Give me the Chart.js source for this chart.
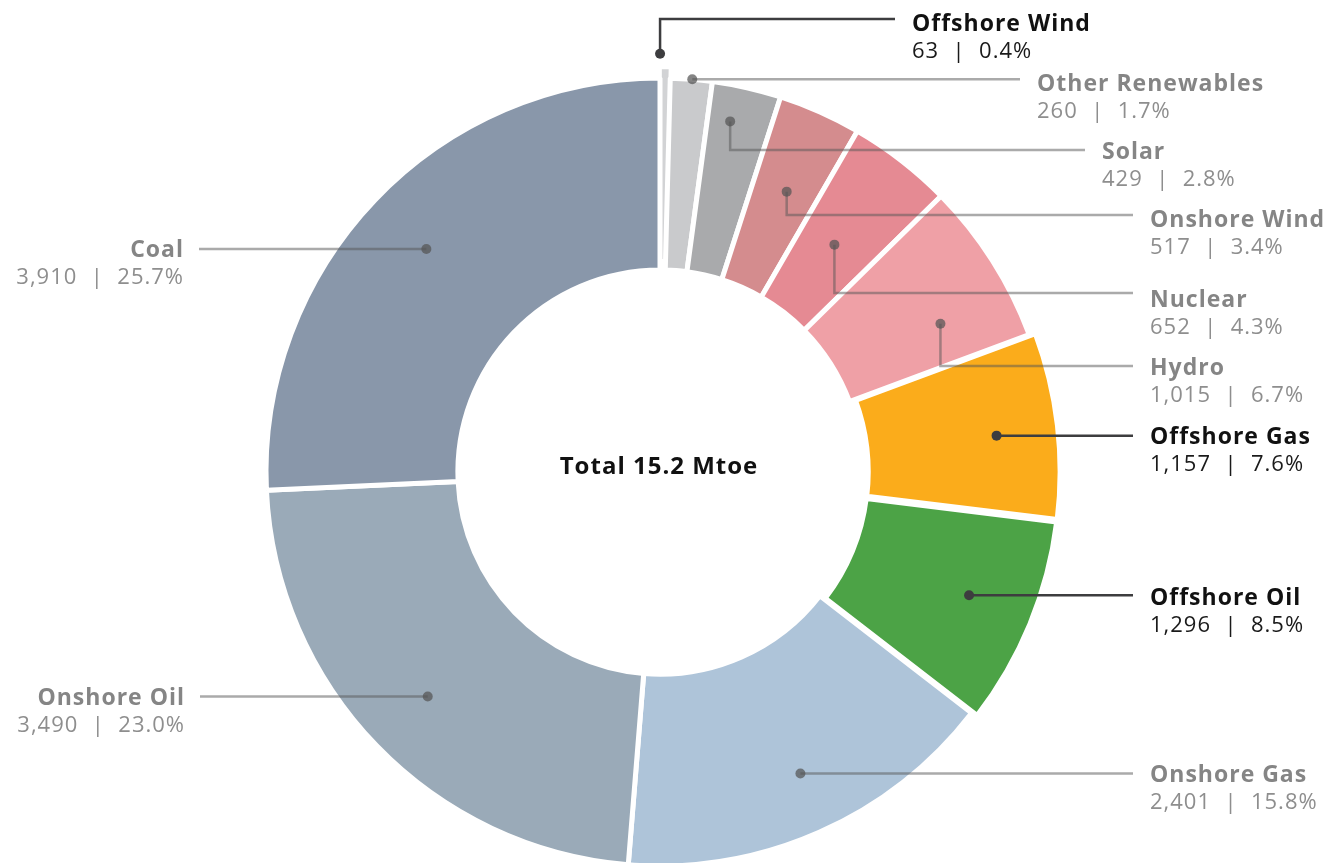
<!DOCTYPE html>
<html><head><meta charset="utf-8">
<script src="https://cdn.jsdelivr.net/npm/chart.js@4/dist/chart.umd.min.js"></script>
<style>html,body{margin:0;padding:0;background:#fff;overflow:hidden}canvas{display:block}</style>
</head><body>
<canvas id="c" width="1326" height="863"></canvas>
<script>
// ---- data ----
const categories = ['Offshore Wind','Other Renewables','Solar','Onshore Wind','Nuclear','Hydro','Offshore Gas','Offshore Oil','Onshore Gas','Onshore Oil','Coal'];
const values = [63,260,429,517,652,1015,1157,1296,2401,3490,3910];
const highlighted = [true,false,false,false,false,false,true,true,false,false,false];
const totalUnit = 'Mtoe';

// ---- styles ----
const sliceColors = ['#D2D3D5','#C9CACC','#A9AAAC','#D48C8E','#E58A93','#EFA0A6','#FBAC1B','#4CA346','#AEC4D9','#9AAAB8','#8997AA'];
const sliceOffsets = [20,0,0,0,0,0,16,16,0,0,0];
const FONT = '"Open Sans", "Noto Sans", sans-serif';

// label layout: anchor position inside slice (f = angle fraction, g = radial fraction), text placement
const labelLayout = [
  {side:'right', f:0.0,  g:1.10, textX:912,  titleY:22,  lineY:19},
  {side:'right', f:0.52, g:1.00, textX:1037, titleY:82,  lineY:null},
  {side:'right', f:0.36, g:0.81, textX:1102, titleY:150, lineY:150},
  {side:'right', f:0.53, g:0.55, textX:1150, titleY:218, lineY:215},
  {side:'right', f:0.48, g:0.44, textX:1150, titleY:298, lineY:293},
  {side:'right', f:0.69, g:0.60, textX:1150, titleY:366, lineY:366},
  {side:'right', f:0.52, g:0.69, textX:1150, titleY:435, lineY:null},
  {side:'right', f:0.48, g:0.66, textX:1150, titleY:596, lineY:null},
  {side:'right', f:0.48, g:0.68, textX:1150, titleY:773, lineY:null},
  {side:'left',  f:0.50, g:0.63, textX:185,  titleY:696, lineY:null},
  {side:'left',  f:0.50, g:0.63, textX:184,  titleY:248, lineY:null}
];

const total = values.reduce((a,b)=>a+b,0);

const labelPlugin = {
  id:'labels',
  afterDatasetsDraw(chart){
    const ctx = chart.ctx;
    const meta = chart.getDatasetMeta(0);
    meta.data.forEach((arc,i)=>{
      const L = labelLayout[i];
      const p = arc.getProps(['x','y','startAngle','endAngle','innerRadius','outerRadius'], true);
      const off = (arc.options.offset||0)/4;
      const mid = (p.startAngle+p.endAngle)/2;
      const a = p.startAngle + L.f*(p.endAngle-p.startAngle);
      const r = p.innerRadius + L.g*(p.outerRadius-p.innerRadius);
      const dx = p.x + Math.cos(mid)*off + Math.cos(a)*r;
      const dy = p.y + Math.sin(mid)*off + Math.sin(a)*r;
      const dark = highlighted[i];
      const lineCol = dark ? '#3d3d3f' : 'rgba(85,85,85,0.5)';
      const dotCol = dark ? '#3d3d3f' : 'rgba(85,85,85,0.72)';
      ctx.save();
      ctx.lineWidth = 2.5;
      ctx.strokeStyle = lineCol;
      ctx.beginPath();
      ctx.moveTo(dx,dy);
      let ly = dy;
      if (L.lineY !== null){ ctx.lineTo(dx, L.lineY); ly = L.lineY; }
      const endX = L.side==='right' ? L.textX-17 : L.textX+15;
      ctx.lineTo(endX, ly);
      ctx.stroke();
      ctx.fillStyle = dotCol;
      ctx.beginPath(); ctx.arc(dx,dy,5,0,Math.PI*2); ctx.fill();
      // text
      ctx.textAlign = L.side==='right' ? 'left' : 'right';
      ctx.textBaseline = 'alphabetic';
      ctx.letterSpacing = '1px';
      ctx.font = 'bold 23px ' + FONT;
      ctx.fillStyle = dark ? '#111111' : '#858585';
      ctx.fillText(categories[i], L.textX, L.titleY+9);
      ctx.font = '22px ' + FONT;
      ctx.fillStyle = dark ? '#1a1a1a' : '#8e8e8e';
      const pct = (values[i]/total*100).toFixed(1)+'%';
      ctx.fillText(values[i].toLocaleString('en-US') + '  |  ' + pct, L.textX, L.titleY+36);
      ctx.restore();
    });
    // center total
    const a0 = meta.data[0];
    ctx.save();
    ctx.letterSpacing = '1px';
    ctx.font = 'bold 24px ' + FONT;
    ctx.fillStyle = '#111';
    ctx.textAlign = 'center';
    ctx.textBaseline = 'alphabetic';
    ctx.fillText('Total ' + (total/1000).toFixed(1) + ' ' + totalUnit, a0.x - 1, a0.y + 2);
    ctx.restore();
  }
};

new Chart(document.getElementById('c'), {
  type:'doughnut',
  data:{
    labels: categories,
    datasets:[{
      data: values,
      backgroundColor: sliceColors,
      borderColor:'#ffffff',
      borderWidth: categories.map((c,i)=> i===0 ? 2 : 5),
      offset: sliceOffsets,
      hoverOffset:0,
      clip:false
    }]
  },
  options:{
    responsive:false,
    animation:false,
    radius:394,
    cutout:'51.3%',
    layout:{padding:{top:81,left:0,right:6,bottom:0}},
    plugins:{legend:{display:false},tooltip:{enabled:false}},
    events:[]
  },
  plugins:[labelPlugin]
});
</script>
</body></html>
